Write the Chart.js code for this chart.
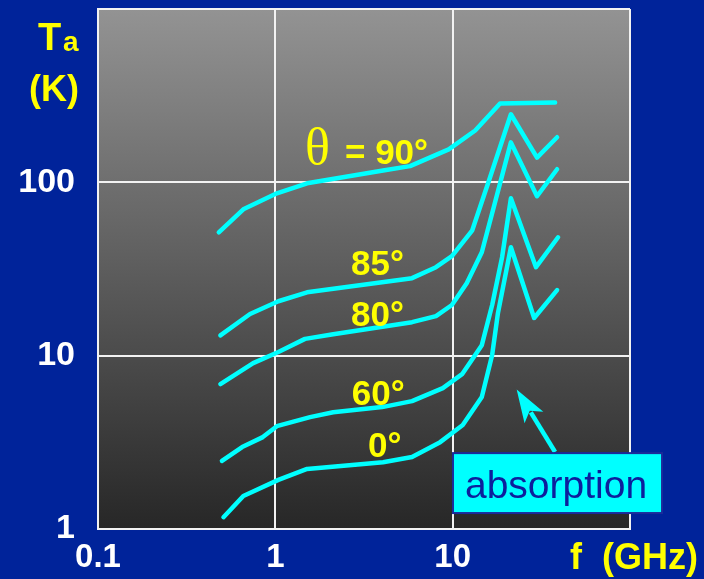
<!DOCTYPE html>
<html>
<head>
<meta charset="utf-8">
<script src="https://cdn.jsdelivr.net/npm/chart.js@4.4.0/dist/chart.umd.min.js"></script>
<style>
  html, body { margin: 0; padding: 0; background: #00239a; }
  #wrap { width: 704px; height: 579px; }
</style>
</head>
<body>
<div id="wrap"><canvas id="tempChart" width="704" height="579"></canvas></div>
<script>
// axis ticks
const xTicks = [0.1, 1, 10, 100];
const yTicks = [1, 10, 100, 1000];

// antenna temperature (K) vs frequency (GHz) for each elevation angle
const f90 = [0.48, 0.66, 1.02, 1.51, 4.05, 5.75, 9.5, 13.4, 18.5, 37.8];
const t90 = [51.5, 69.9, 86.4, 98.7, 117, 124, 155, 199, 285, 289];

const f85 = [0.49, 0.72, 1.04, 1.51, 5.9, 8.05, 9.9, 12.9, 16.2, 21.3, 29.9, 38.8];
const t85 = [13.1, 17.4, 20.6, 23.2, 28.0, 32.4, 37.5, 52.9, 106, 247, 139, 182];

const f80 = [0.49, 0.75, 1.04, 1.47, 2.12, 5.9, 8.05, 9.9, 12.0, 14.6, 21.3, 29.9, 38.8];
const t80 = [6.85, 9.05, 10.5, 12.5, 13.3, 15.6, 16.9, 19.6, 26.2, 39.5, 170, 83.1, 119];

const f60 = [0.50, 0.65, 0.85, 1.02, 1.57, 2.12, 4.0, 5.9, 8.8, 11.3, 14.6, 16.7, 19.0, 21.3, 29.5, 39.3];
const t60 = [2.47, 2.97, 3.39, 3.92, 4.42, 4.72, 5.05, 5.47, 6.5, 7.82, 11.5, 19.6, 37.0, 80.9, 32.4, 48.2];

const f0 = [0.51, 0.66, 1.04, 1.51, 4.05, 5.9, 8.5, 11.4, 14.6, 16.7, 18.0, 21.3, 28.8, 38.8];
const t0 = [1.17, 1.55, 1.92, 2.22, 2.43, 2.60, 3.17, 3.98, 5.77, 10.1, 17.6, 42.2, 16.5, 23.9];

// curve labels: text, frequency, temperature (left edge / baseline)
const curveLabels = [
  { text: '= 90°', f: 2.47, t: 128 },
  { text: '85°', f: 2.67, t: 29.1 },
  { text: '80°', f: 2.67, t: 14.8 },
  { text: '60°', f: 2.70, t: 5.19 },
  { text: '0°', f: 3.33, t: 2.60 }
];

const FONT = "'Liberation Sans', Arial, sans-serif";
const CYAN = '#00ffff';
const YELLOW = '#ffff00';

const toPts = (fs, ts) => fs.map((f, i) => ({ x: f, y: ts[i] }));

const lineStyle = {
  borderColor: CYAN,
  borderWidth: 4.5,
  pointRadius: 0,
  tension: 0,
  fill: false,
  borderCapStyle: 'round',
  borderJoinStyle: 'round'
};

const plotBackground = {
  id: 'plotBackground',
  beforeDraw(chart) {
    const { ctx, chartArea: a } = chart;
    const g = ctx.createLinearGradient(0, a.top, 0, a.bottom);
    g.addColorStop(0, '#939393');
    g.addColorStop(1, '#272727');
    ctx.save();
    ctx.fillStyle = g;
    ctx.fillRect(a.left, a.top, a.right - a.left, a.bottom - a.top);
    ctx.restore();
  }
};

const annotations = {
  id: 'annotations',
  afterDraw(chart) {
    const { ctx } = chart;
    const xs = chart.scales.x, ys = chart.scales.y;
    const px = v => xs.getPixelForValue(v);
    const py = v => ys.getPixelForValue(v);
    ctx.save();
    ctx.textBaseline = 'alphabetic';
    ctx.textAlign = 'left';

    // theta
    ctx.fillStyle = YELLOW;
    ctx.font = "52px 'Liberation Serif', 'Times New Roman', serif";
    ctx.fillText('θ', px(1.47), py(128));

    ctx.font = 'bold 35px ' + FONT;
    curveLabels.forEach(l => ctx.fillText(l.text, px(l.f), py(l.t)));

    // axis titles
    ctx.font = 'bold 38px ' + FONT;
    ctx.fillText('T', 38, 50);
    ctx.font = 'bold 28px ' + FONT;
    ctx.fillText('a', 63, 51);
    ctx.font = 'bold 36px ' + FONT;
    ctx.fillText('(K)', 29, 101);
    ctx.fillText('f  (GHz)', 570, 569);

    // arrow to the absorption peak
    const tipX = px(22.96), tipY = py(6.39);
    const tailX = px(37.8), tailY = py(2.78);
    const ang = Math.atan2(tipY - tailY, tipX - tailX);
    const headLen = 33, headHalf = 11;
    const bx = tipX - headLen * Math.cos(ang), by = tipY - headLen * Math.sin(ang);
    ctx.strokeStyle = CYAN;
    ctx.lineWidth = 4.5;
    ctx.beginPath();
    ctx.moveTo(tailX, tailY);
    ctx.lineTo(bx + 6 * Math.cos(ang), by + 6 * Math.sin(ang));
    ctx.stroke();
    ctx.fillStyle = CYAN;
    ctx.beginPath();
    ctx.moveTo(tipX, tipY);
    ctx.lineTo(bx + headHalf * Math.sin(ang), by - headHalf * Math.cos(ang));
    ctx.lineTo(bx + 8 * Math.cos(ang), by + 8 * Math.sin(ang));
    ctx.lineTo(bx - headHalf * Math.sin(ang), by + headHalf * Math.cos(ang));
    ctx.closePath();
    ctx.fill();

    // absorption box
    const x0 = px(10.04), x1 = px(151.6), y0 = py(2.74), y1 = py(1.236);
    ctx.fillStyle = CYAN;
    ctx.fillRect(x0, y0, x1 - x0, y1 - y0);
    ctx.strokeStyle = '#1b2a9a';
    ctx.lineWidth = 2;
    ctx.strokeRect(x0, y0, x1 - x0, y1 - y0);
    ctx.fillStyle = '#0d1f9c';
    ctx.font = '39px ' + FONT;
    ctx.fillText('absorption', x0 + 12, y1 - 15);
    ctx.restore();
  }
};

new Chart(document.getElementById('tempChart'), {
  type: 'line',
  data: {
    datasets: [
      { label: '90', data: toPts(f90, t90), ...lineStyle },
      { label: '85', data: toPts(f85, t85), ...lineStyle },
      { label: '80', data: toPts(f80, t80), ...lineStyle },
      { label: '60', data: toPts(f60, t60), ...lineStyle },
      { label: '0', data: toPts(f0, t0), ...lineStyle }
    ]
  },
  options: {
    responsive: false,
    animation: false,
    devicePixelRatio: 1,
    layout: { padding: { top: 9, right: 74, left: 0, bottom: 0 } },
    plugins: {
      legend: { display: false },
      tooltip: { enabled: false }
    },
    scales: {
      x: {
        type: 'logarithmic',
        min: 0.1,
        max: 100,
        afterBuildTicks: s => { s.ticks = xTicks.map(v => ({ value: v })); },
        afterFit: s => { s.height = 50; s.paddingLeft = 0; s.paddingRight = 0; },
        grid: { color: '#f2f2f2', lineWidth: 2, drawTicks: false },
        border: { color: '#f2f2f2', width: 2 },
        ticks: {
          color: '#ffffff',
          font: { family: FONT, size: 33, weight: 'bold' },
          padding: 9,
          maxRotation: 0,
          autoSkip: false,
          callback: v => (v === 100 ? '' : String(v))
        }
      },
      y: {
        type: 'logarithmic',
        min: 1,
        max: 1000,
        afterBuildTicks: s => { s.ticks = yTicks.map(v => ({ value: v })); },
        afterFit: s => { s.width = 98; s.paddingTop = 0; s.paddingBottom = 0; },
        grid: { color: '#f2f2f2', lineWidth: 2, drawTicks: false },
        border: { color: '#f2f2f2', width: 2 },
        ticks: {
          color: '#ffffff',
          font: { family: FONT, size: 34, weight: 'bold' },
          padding: 23,
          autoSkip: false,
          callback: v => (v === 1000 ? '' : String(v))
        }
      }
    }
  },
  plugins: [plotBackground, annotations]
});
</script>
</body>
</html>
